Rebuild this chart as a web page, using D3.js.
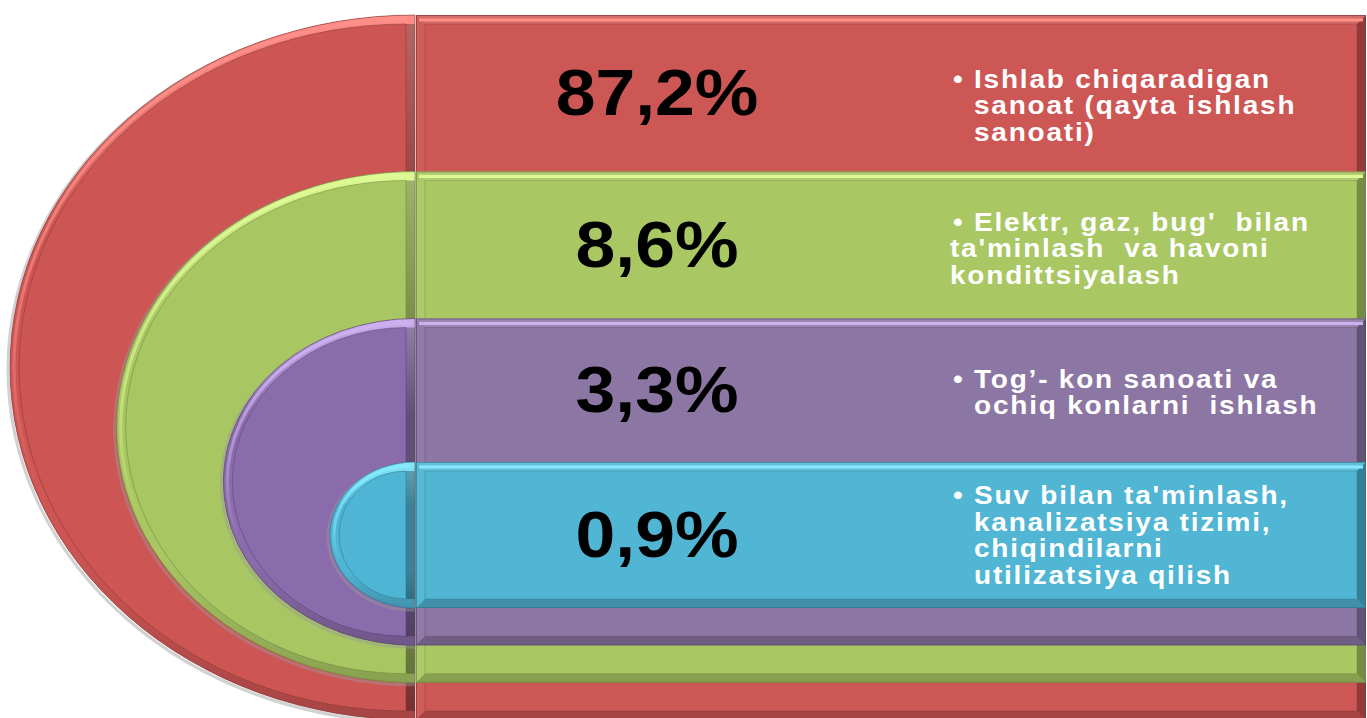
<!DOCTYPE html>
<html lang="uz">
<head>
<meta charset="utf-8">
<title>Sanoat tarmoqlari ulushi</title>
<script src="https://d3js.org/d3.v7.min.js"></script>
<style>
  body { margin: 0; background: #fff; overflow: hidden; }
  svg { display: block; }
  .pct { font-family: "Liberation Sans", Arial, sans-serif; font-weight: bold; font-size: 65px; fill: #000; }
  .lbl { font-family: "Liberation Sans", Arial, sans-serif; font-weight: bold; font-size: 25px; fill: #fff; white-space: pre; letter-spacing: 1.6px; }
</style>
</head>
<body>
<svg id="chart" width="1367" height="718"></svg>
<script>
// shares of industry branches, %
const values = [87.2, 8.6, 3.3, 0.9];
const labels = [
  ["Ishlab chiqaradigan", "sanoat (qayta ishlash", "sanoati)"],
  ["Elektr, gaz, bug'  bilan", "ta'minlash  va havoni", "kondittsiyalash"],
  ["Tog’- kon sanoati va", "ochiq konlarni  ishlash"],
  ["Suv bilan ta'minlash,", "kanalizatsiya tizimi,", "chiqindilarni", "utilizatsiya qilish"]
];
const hangingIndent = [true, false, true, true];

const arcColors  = ["#cd5654", "#a8c763", "#8a6bab", "#4fb5d4"];
const rectColors = ["#cd5755", "#a9c864", "#8c77a4", "#50b6d4"];
const lightColors = ["#ff8f88", "#defa95", "#cdb0f0", "#86eafc"];
const darkColors = ["#7e3533", "#667f38", "#55406c", "#2b7489"];

const W = 1367, H = 718;
const cx = 415;           // where the half-ellipses meet the bars
const barX = 416, barR = 1366;
const bevel = 9;
const pctX = 657, bulletX = 953, textX = 974, wrapX = 950;
const labelShift = [12, 3, 2, 0];

const svg = d3.select("#chart");
const defs = svg.append("defs");

const levels = d3.range(values.length);
const yTop = d3.scalePow().exponent(0.955).domain([0, levels.length - 1]).range([15, 462]);
const yBottom = d3.scaleLinear().domain([0, levels.length - 1]).range([720, 608]);
const xLeft = d3.scaleLinear().domain([0, levels.length - 1]).range([10, 330]);

const uz = d3.formatLocale({ decimal: ",", thousands: " ", grouping: [3], currency: ["", ""] });
const fmt = v => uz.format(".1f")(v) + "%";

function halfEllipse(x, top, bottom, left) {
  const rx = x - left, ry = (bottom - top) / 2;
  return `M${x},${top}A${rx},${ry} 0 0 0 ${x},${bottom}Z`;
}
function halfArc(x, top, bottom, left) {
  const rx = x - left, ry = (bottom - top) / 2;
  return `M${x},${top}A${rx},${ry} 0 0 0 ${x},${bottom}`;
}

levels.forEach(i => {
  // gradients for the bevel ring and the highlight stripe
  const g = defs.append("linearGradient").attr("id", "ring" + i)
    .attr("x1", 0).attr("y1", 0).attr("x2", 0).attr("y2", 1);
  g.append("stop").attr("offset", 0).attr("stop-color", lightColors[i]);
  g.append("stop").attr("offset", 0.3).attr("stop-color", arcColors[i]);
  g.append("stop").attr("offset", 0.75).attr("stop-color", arcColors[i]);
  g.append("stop").attr("offset", 1).attr("stop-color", d3.color(arcColors[i]).darker(0.6));

  const h = defs.append("linearGradient").attr("id", "hl" + i)
    .attr("x1", 0).attr("y1", 0).attr("x2", 0).attr("y2", 1);
  h.append("stop").attr("offset", 0).attr("stop-color", lightColors[i]).attr("stop-opacity", 1);
  h.append("stop").attr("offset", 0.45).attr("stop-color", lightColors[i]).attr("stop-opacity", 0.5);
  h.append("stop").attr("offset", 0.7).attr("stop-color", lightColors[i]).attr("stop-opacity", 0);
});

levels.forEach(i => {
  const top = yTop(i), bottom = yBottom(i), left = xLeft(i);
  const grp = svg.append("g").attr("class", "level level-" + i);

  // ---- half ellipse on the left ----
  grp.append("path")
    .attr("d", halfEllipse(cx, top, bottom, left))
    .attr("transform", "translate(-2,2)")
    .attr("fill", "none")
    .attr("stroke", "#999")
    .attr("stroke-opacity", 0.45)
    .attr("stroke-width", 3);

  grp.append("path")
    .attr("d", halfEllipse(cx, top, bottom, left))
    .attr("fill", arcColors[i]);

  const inner = halfEllipse(cx - bevel, top + bevel, bottom - bevel, left + bevel);
  grp.append("path")
    .attr("d", halfEllipse(cx, top, bottom, left) + inner)
    .attr("fill-rule", "evenodd")
    .attr("fill", `url(#ring${i})`);

  grp.append("path")
    .attr("d", halfArc(cx - 4, top + 4, bottom - 4, left + 4))
    .attr("fill", "none")
    .attr("stroke", `url(#hl${i})`)
    .attr("stroke-width", 3);

  grp.append("rect")
    .attr("x", cx - bevel).attr("y", top + bevel)
    .attr("width", bevel).attr("height", bottom - top - 2 * bevel)
    .attr("fill", "#000").attr("fill-opacity", 0.28);

  grp.append("path")
    .attr("d", inner)
    .attr("fill", "none")
    .attr("stroke", darkColors[i])
    .attr("stroke-opacity", 0.5)
    .attr("stroke-width", 1);

  grp.append("path")
    .attr("d", halfEllipse(cx, top, bottom, left))
    .attr("fill", "none")
    .attr("stroke", darkColors[i])
    .attr("stroke-opacity", 0.6)
    .attr("stroke-width", 1);

  // ---- bar on the right ----
  const x0 = barX, x1 = barR, y0 = top, y1 = bottom, b = bevel;
  grp.append("rect")
    .attr("x", x0).attr("y", y0)
    .attr("width", x1 - x0).attr("height", y1 - y0)
    .attr("fill", rectColors[i]);

  const facets = [
    { pts: [[x0, y0], [x1, y0], [x1 - b, y0 + b], [x0 + b, y0 + b]], fill: "#fff", op: 0.12 },
    { pts: [[x0, y0], [x0 + b, y0 + b], [x0 + b, y1 - b], [x0, y1]], fill: "#fff", op: 0.04 },
    { pts: [[x0, y1], [x0 + b, y1 - b], [x1 - b, y1 - b], [x1, y1]], fill: "#000", op: 0.2 },
    { pts: [[x1, y0], [x1, y1], [x1 - b, y1 - b], [x1 - b, y0 + b]], fill: "#000", op: 0.3 }
  ];
  grp.selectAll("polygon.facet")
    .data(facets)
    .join("polygon")
    .attr("class", "facet")
    .attr("points", d => d.pts.map(p => p.join(",")).join(" "))
    .attr("fill", d => d.fill)
    .attr("fill-opacity", d => d.op);

  grp.append("line")
    .attr("x1", x0 + 3).attr("x2", x1 - 3)
    .attr("y1", y0 + 5).attr("y2", y0 + 5)
    .attr("stroke", lightColors[i])
    .attr("stroke-width", 3);

  grp.append("rect")
    .attr("x", x0 + b).attr("y", y0 + b)
    .attr("width", x1 - x0 - 2 * b).attr("height", y1 - y0 - 2 * b)
    .attr("fill", "none")
    .attr("stroke", darkColors[i])
    .attr("stroke-opacity", 0.35);

  grp.append("rect")
    .attr("x", x0 + 0.5).attr("y", y0 + 0.5)
    .attr("width", x1 - x0 - 1).attr("height", y1 - y0 - 1)
    .attr("fill", "none")
    .attr("stroke", darkColors[i])
    .attr("stroke-opacity", 0.6);
});

// ---- texts ----
levels.forEach(i => {
  const top = yTop(i);
  const end = i < levels.length - 1 ? yTop(i + 1) : yBottom(i);
  const mid = (top + end) / 2;

  svg.append("text")
    .attr("class", "pct")
    .attr("text-anchor", "middle")
    .attr("transform", `translate(${pctX},${mid + 22}) scale(1.1,1)`)
    .text(fmt(values[i]));

  const lines = labels[i];
  const lh = 26.5;
  const first = mid - (lines.length - 1) * lh / 2 + 9 + labelShift[i];

  svg.append("text")
    .attr("class", "lbl")
    .attr("transform", `translate(${bulletX},${first}) scale(1.12,1)`)
    .text("•");

  lines.forEach((t, j) => {
    const x = (j === 0 || hangingIndent[i]) ? textX : wrapX;
    svg.append("text")
      .attr("class", "lbl")
      .attr("transform", `translate(${x},${first + j * lh}) scale(1.12,1)`)
      .text(t);
  });
});
</script>
</body>
</html>
